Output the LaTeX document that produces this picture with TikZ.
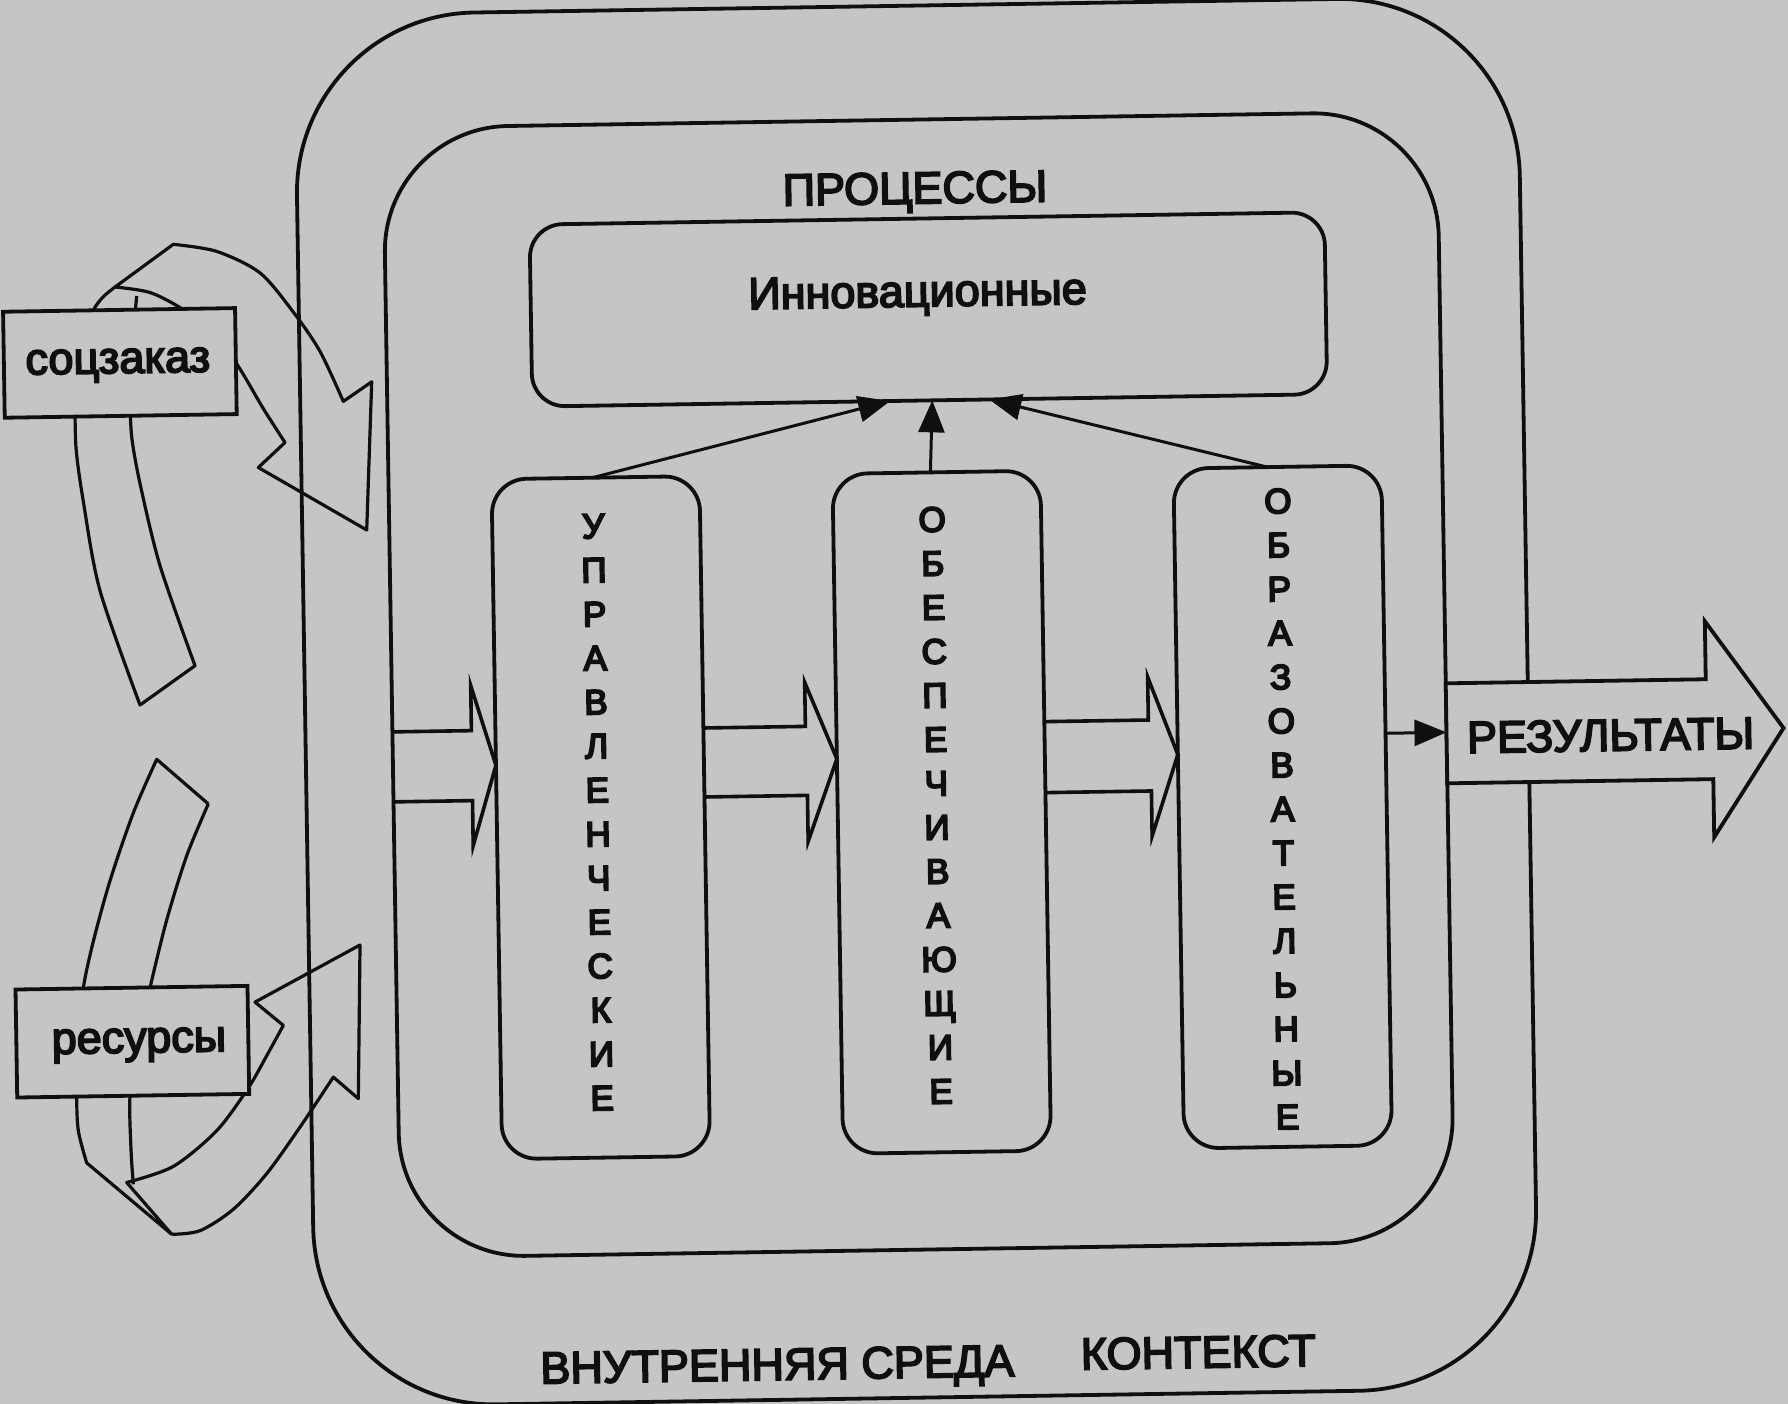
\documentclass[tikz,border=0pt]{standalone}
\usepackage{fontspec}
\setmainfont{Liberation Sans}[RawFeature={embolden=4}]
\newfontfamily\vfont{Liberation Sans}[RawFeature={embolden=5.5}]
\usetikzlibrary{arrows.meta}
\definecolor{bg}{RGB}{197,197,197}
\definecolor{ink}{RGB}{15,15,15}
\begin{document}
\begin{tikzpicture}[x=1pt,y=-1pt,color=ink,line width=3.8pt,
  box/.style={draw, outer sep=0pt, inner sep=0pt},
  procbox/.style={box, rounded corners=35pt, minimum width=208pt, minimum height=680pt},
  vword/.style={align=center, inner sep=0pt, font=\vfont\fontsize{35}{44}\selectfont},
  biglabel/.style={inner sep=0pt, anchor=base, font=\fontsize{45}{54}\selectfont},
  srcbox/.style={box, fill=bg, minimum width=232pt, minimum height=106pt},
  thinarrow/.style={line width=3pt, -{Triangle[length=32pt,width=26pt]}},
  ribbon/.style={line width=3.2pt, line join=round},
  blockarrow/.style={line width=3.6pt, line join=miter}
]
\useasboundingbox (0,0) rectangle (1788,1404);
\fill[bg] (0,0) rectangle (1788,1404);
\begin{scope}[rotate around={0.9:(894,702)}, transform shape]
  % ribbons, drawn in the coordinates of the scan
  \begin{scope}[rotate around={-0.9:(894,702)}]
    % соцзаказ ribbon, rising part
    \draw[ribbon] plot[smooth] coordinates {(75,400) (76,447.9) (83.3,501.4) (100,590.7) (140,705)} -- (195,665.7)
      -- plot[smooth] coordinates {(195,665.7) (160,565.7) (140,483.6) (131.7,437) (130,400)};
    \draw[ribbon] plot[smooth] coordinates {(86,335) (93.3,310.4) (103,297) (115,287)};
    \draw[ribbon] (133.3,330) -- (136.7,296);
    % falling part with head
    \draw[ribbon] (115,287) -- (173.3,244.3)
      -- plot[smooth] coordinates {(173.3,244.3) (216.7,251.4) (260,272.9) (293.3,312.1) (320,351.4) (343.3,401.4)}
      -- (371.7,381.8) -- (366.7,530) -- (258.3,467.5) -- (285,442.5)
      -- plot[smooth] coordinates {(285,442.5) (263.3,408.6) (236.7,363.9) (210,330) (181.7,308.6) (150,292.5) (115,287)};
    % ресурсы ribbon, falling part
    \draw[ribbon] (208.3,803.9) -- (156.7,759.3)
      -- plot[smooth] coordinates {(156.7,759.3) (133.3,812.9) (110,880.7) (93.3,941.4) (83.3,987.9) (78,1040) (76.7,1095.7) (78.3,1130.7) (86.7,1162.9)}
      -- (171.7,1234.3);
    \draw[ribbon] plot[smooth] coordinates {(208.3,803.9) (186.7,855.7) (166.7,920) (150,987.9) (138,1045) (130,1095.7) (131,1150) (133.3,1184.3)};
    % rising part with head
    \draw[ribbon] plot[smooth] coordinates {(171.7,1234.3) (200,1230.7) (233.3,1209.3) (266.7,1173.6) (300,1127.1) (333.3,1077.1)}
      -- (358.3,1098.6) -- (360,945) -- (255,1002.1) -- (283.3,1025.4)
      -- plot[smooth] coordinates {(283.3,1025.4) (266.7,1055.7) (248.3,1087.9) (216.7,1130.7) (173.3,1166.4) (126.7,1182.5)}
      -- (171.7,1234.3);
  \end{scope}

  % frames
  \node[box, rounded corners=180pt, minimum width=1223pt, minimum height=1392pt] (outer) at (916.5,702) {};
  \node[box, rounded corners=125pt, minimum width=1054pt, minimum height=1130pt] (inner) at (919,685) {};

  % source boxes
  \node[srcbox] (soc) at (125.3,350.8) {};
  \node[biglabel] (soct) at (123.3,361) {соцзаказ};
  \node[srcbox, minimum height=108pt] (resb) at (127.1,1029.7) {};
  \node[biglabel] (resbt) at (133.7,1040.7) {ресурсы};

  % process boxes
  \node[box, rounded corners=33pt, minimum width=795pt, minimum height=182pt] (inno) at (934.5,310) {};
  \node[procbox] (upr) at (599,813) {};
  \node[procbox] (obesp) at (940,813) {};
  \node[procbox] (obraz) at (1281,813) {};

  \node[vword] (uprt) at (596,807.5) {У\\П\\Р\\А\\В\\Л\\Е\\Н\\Ч\\Е\\С\\К\\И\\Е};
  \node[vword] (obespt) at (935,806) {О\\Б\\Е\\С\\П\\Е\\Ч\\И\\В\\А\\Ю\\Щ\\И\\Е};
  \node[vword] (obrazt) at (1281,815) {О\\Б\\Р\\А\\З\\О\\В\\А\\Т\\Е\\Л\\Ь\\Н\\Ы\\Е};

  % arrows into the innovation box
  \draw[thinarrow] (upr.north -| 596,0) -- (inno.south -| 895,0);
  \draw[thinarrow] (obesp.north -| 934,0) -- (inno.south -| 937,0);
  \draw[thinarrow] (obraz.north -| 1271,0) -- (inno.south -| 994,0);

  % block arrows
  \draw[blockarrow] (inner.west |- 0,724) -- (471,724) -- (471,679) -- (upr.west |- 0,759)
     -- (471,839) -- (471,794) -- (inner.west |- 0,794);
  \draw[blockarrow] (upr.east |- 0,725) -- (805,725) -- (805,681) -- (obesp.west |- 0,758)
     -- (806,840) -- (806,794) -- (upr.east |- 0,794);
  \draw[blockarrow] (obesp.east |- 0,724) -- (1148,724) -- (1148,681) -- (obraz.west |- 0,759)
     -- (1150,840) -- (1150,795) -- (obesp.east |- 0,795);

  % output
  \draw[thinarrow] (obraz.east |- 0,741) -- (inner.east |- 0,741);
  \draw[fill=bg, line join=miter] (inner.east |- 0,692) -- (1706,692) -- (1706,634) -- (1783,742)
     -- (1712,850) -- (1712,792) -- (inner.east |- 0,792) -- cycle;
  \node[biglabel] (rest) at (1610,762) {РЕЗУЛЬТАТЫ};

  % labels
  \node[biglabel] (proc) at (923,204) {ПРОЦЕССЫ};
  \node[biglabel] (innot) at (924,307) {Инновационные};
  \node[biglabel] (vnutr) at (767,1378) {ВНУТРЕННЯЯ СРЕДА};
  \node[biglabel] (kont) at (1188,1372.5) {КОНТЕКСТ};
\end{scope}
\end{tikzpicture}
\end{document}
